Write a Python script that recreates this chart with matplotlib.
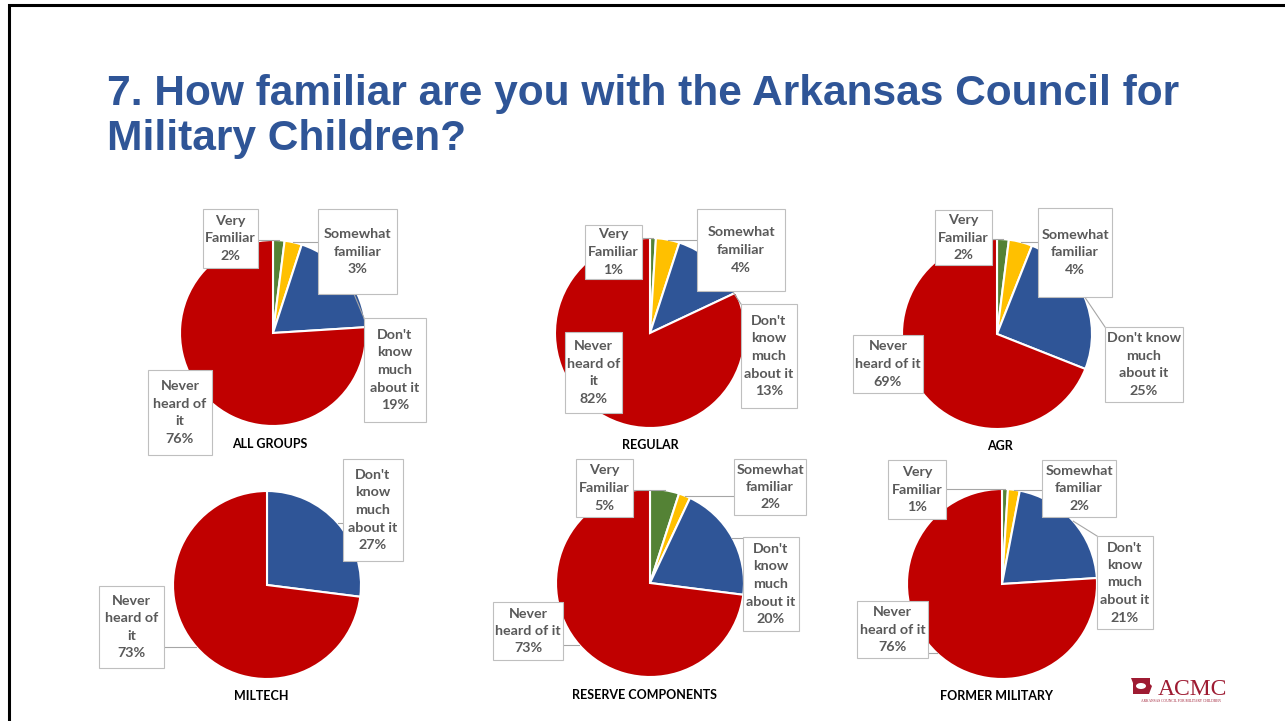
import matplotlib
matplotlib.use("Agg")
import matplotlib.pyplot as plt
from matplotlib.patches import Rectangle, Polygon, Ellipse
import numpy as np

# survey data (percent)
groups = ["ALL GROUPS", "REGULAR", "AGR", "MILTECH", "RESERVE COMPONENTS", "FORMER MILITARY"]
categories = ["Very Familiar", "Somewhat familiar", "Don't know much about it", "Never heard of it"]
very_familiar = [2, 1, 2, 0, 5, 1]
somewhat_familiar = [3, 4, 4, 0, 2, 2]
dont_know_much = [19, 13, 25, 27, 20, 21]
never_heard = [76, 82, 69, 73, 73, 76]

title = "7. How familiar are you with the Arkansas Council for\nMilitary Children?"

# how each data label wraps in each chart
wraps = [
    ["Very\nFamiliar", "Somewhat\nfamiliar", "Don't\nknow\nmuch\nabout it", "Never\nheard of\nit"],
    ["Very\nFamiliar", "Somewhat\nfamiliar", "Don't\nknow\nmuch\nabout it", "Never\nheard of\nit"],
    ["Very\nFamiliar", "Somewhat\nfamiliar", "Don't know\nmuch\nabout it", "Never\nheard of it"],
    ["Very\nFamiliar", "Somewhat\nfamiliar", "Don't\nknow\nmuch\nabout it", "Never\nheard of\nit"],
    ["Very\nFamiliar", "Somewhat\nfamiliar", "Don't\nknow\nmuch\nabout it", "Never\nheard of it"],
    ["Very\nFamiliar", "Somewhat\nfamiliar", "Don't\nknow\nmuch\nabout it", "Never\nheard of it"],
]

# layout in pixels (y measured from top)
W, H = 1285, 721
pie_pos = [(273, 333, 93), (650, 333, 95), (997, 334, 95),
           (267, 585, 94), (650, 583, 94), (1002, 584, 95)]
name_pos = [(270, 444), (650, 445), (1000, 446), (261, 696), (644, 695), (996, 696)]
# label boxes: x0, x1, y0, y1
boxes = [
    [(203, 258, 209, 268), (318, 397, 209, 294), (364, 426, 318, 422), (148, 212, 370, 455)],
    [(585, 642, 225, 279), (697, 785, 209, 291), (741, 797, 304, 408), (565, 622, 332, 413)],
    [(935, 992, 210, 265), (1038, 1112, 208, 297), (1105, 1183, 327, 402), (853, 923, 335, 393)],
    [None, None, (343, 403, 459, 561), (99, 164, 586, 668)],
    [(576, 633, 459, 517), (734, 806, 459, 515), (743, 799, 537, 631), (493, 563, 602, 660)],
    [(888, 946, 460, 519), (1042, 1116, 460, 517), (1097, 1153, 536, 629), (857, 928, 601, 658)],
]

colors = ["#548235", "#FFC000", "#2F5597", "#C00000"]
label_color = "#595959"
lab_font = "Lato"


def fy(y):
    return H - y


fig = plt.figure(figsize=(W / 100, H / 100), dpi=100)
ax = fig.add_axes([0, 0, 1, 1])

for i, g in enumerate(groups):
    vals = [very_familiar[i], somewhat_familiar[i], dont_know_much[i], never_heard[i]]
    cx, cy, r = pie_pos[i]
    ax.pie(vals, colors=colors, startangle=90, counterclock=False,
           center=(cx, fy(cy)), radius=r,
           wedgeprops=dict(edgecolor="white", linewidth=1.5), frame=False)

    total = float(sum(vals))
    cum = 0.0
    for k, v in enumerate(vals):
        if v == 0:
            continue
        mid = np.deg2rad(90 - 360 * (cum + v / 2) / total)
        cum += v
        ax_x = cx + r * np.cos(mid)
        ax_y = fy(cy) + r * np.sin(mid)
        x0, x1, y0, y1 = boxes[i][k]
        bx0, bx1, by0, by1 = x0, x1, fy(y1), fy(y0)
        # leader line from box edge to slice
        px = min(max(ax_x, bx0), bx1)
        py = min(max(ax_y, by0), by1)
        if np.hypot(px - ax_x, py - ax_y) > 3:
            ax.plot([px, ax_x], [py, ax_y], color="#A6A6A6", lw=0.8, zorder=3)
        ax.add_patch(Rectangle((bx0, by0), bx1 - bx0, by1 - by0, facecolor="white",
                               edgecolor="#BFBFBF", lw=0.8, zorder=4))
        ax.text((bx0 + bx1) / 2, (by0 + by1) / 2, "%s\n%d%%" % (wraps[i][k], v),
                ha="center", va="center", fontsize=10.3, fontweight="bold",
                family=lab_font, color=label_color, linespacing=1.55, zorder=5)

    nx, ny = name_pos[i]
    ax.text(nx, fy(ny), g, ha="center", va="center", fontsize=9,
            fontweight="bold", family=lab_font, color="black")

# title
lines = title.split("\n")
ax.text(107, fy(105), lines[0], fontsize=30.6, fontweight="bold",
        family="Liberation Sans", color="#2F5597", va="baseline")
ax.text(107, fy(150), lines[1], fontsize=30.6, fontweight="bold",
        family="Liberation Sans", color="#2F5597", va="baseline")

# logo
ax.add_patch(Polygon([(1131, fy(678)), (1150, fy(678)), (1150, fy(684)), (1152, fy(686)),
                      (1149, fy(694)), (1133, fy(694)), (1133, fy(683))],
                     closed=True, facecolor="#9E1B32", edgecolor="none"))
ax.add_patch(Ellipse((1141, fy(686)), 10, 6, facecolor="white", edgecolor="none"))
ax.text(1192, fy(695), "ACMC", family="Liberation Serif", fontsize=17,
        color="#9E1B32", ha="center", va="baseline")
ax.text(1181, fy(701), "ARKANSAS COUNCIL FOR MILITARY CHILDREN", family="Liberation Serif",
        fontsize=2.6, color="#9E1B32", ha="center", va="center")

# slide border (top and left)
ax.plot([9, 9, W], [0, fy(5), fy(5)], color="black", lw=2.2, solid_joinstyle="miter")

ax.set_xlim(0, W)
ax.set_ylim(0, H)
ax.set_aspect("auto")
ax.axis("off")

fig.savefig("out.png", dpi=100)
